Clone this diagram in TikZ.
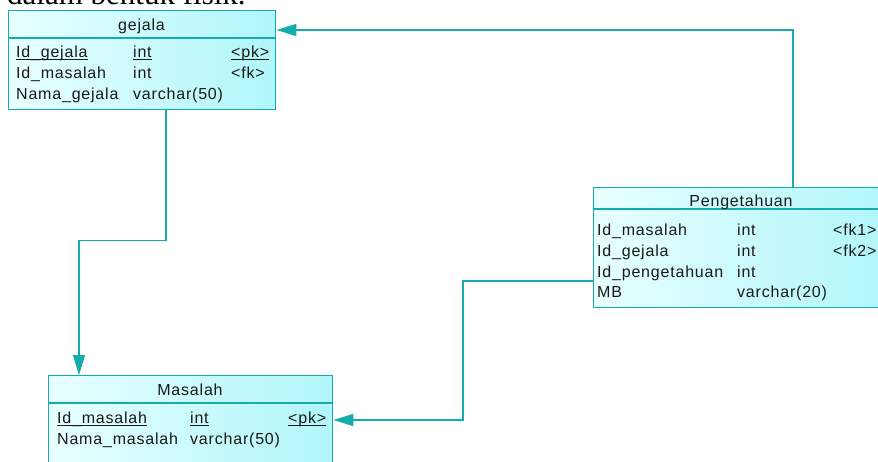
\documentclass[tikz,border=0pt]{standalone}
\usepackage{fontspec}
\setmainfont{Liberation Sans}[LetterSpace=5]
\newfontfamily\bodyserif{Liberation Serif}
\usetikzlibrary{arrows.meta,calc}
\definecolor{erline}{RGB}{20,172,172}
\definecolor{erfillA}{RGB}{232,255,255}
\definecolor{erfillB}{RGB}{176,246,250}
\newcommand\myul[1]{\setbox0\hbox{#1}\rlap{\rule[-2.6pt]{\wd0}{1pt}}\box0}
\begin{document}
\begin{tikzpicture}[x=1pt,y=-1pt,font=\fontsize{16}{18}\selectfont,
  tablebox/.style={draw=erline, line width=1.4pt, left color=erfillA, right color=erfillB, inner sep=0pt, anchor=north west},
  cell/.style={anchor=base west, inner sep=0pt, text=black!90},
  ttl/.style={anchor=base, inner sep=0pt, text=black!90},
  conn/.style={draw=erline, line width=1.4pt},
  arr/.style={-{Triangle[length=20pt,width=12pt]}}]
\useasboundingbox (0,0) rectangle (878,461);
\clip (0,0) rectangle (878,461);
\fill[white] (0,0) rectangle (878,461);
% cropped heading text
\node[anchor=base west, inner sep=0pt, font=\bodyserif\fontsize{31}{33}\selectfont] (head) at (7,4.8) {dalam bentuk fisik.};
% tables
\node[tablebox, minimum width=267pt, minimum height=99pt] (gejala) at (8,10) {};
\node[tablebox, minimum width=297pt, minimum height=120pt] (peng) at (593,187) {};
\node[tablebox, minimum width=284pt, minimum height=100pt] (masalah) at (48,375) {};
\draw[conn] ($(gejala.north west)+(0,28)$) -- ($(gejala.north east)+(0,28)$);
\draw[conn] ($(peng.north west)+(0,22)$) -- ($(peng.north east)+(0,22)$);
\draw[conn] ($(masalah.north west)+(0,28)$) -- ($(masalah.north east)+(0,28)$);
% gejala
\node[ttl] (gt) at (141.5,30) {gejala};
\node[cell] (g11) at (16,57) {\myul{Id\_gejala}};
\node[cell] (g12) at (133,57) {\myul{int}};
\node[cell] (g13) at (231,57) {\myul{<pk>}};
\node[cell] (g21) at (16,78) {Id\_masalah};
\node[cell] (g22) at (133,78) {int};
\node[cell] (g23) at (231,78) {<fk>};
\node[cell] (g31) at (16,99) {Nama\_gejala};
\node[cell] (g32) at (133,99) {varchar(50)};
% Pengetahuan
\node[ttl] (pt) at (741,206) {Pengetahuan};
\node[cell] (p11) at (597,235) {Id\_masalah};
\node[cell] (p12) at (737,235) {int};
\node[cell] (p13) at (833,235) {<fk1>};
\node[cell] (p21) at (597,256) {Id\_gejala};
\node[cell] (p22) at (737,256) {int};
\node[cell] (p23) at (833,256) {<fk2>};
\node[cell] (p31) at (597,277) {Id\_pengetahuan};
\node[cell] (p32) at (737,277) {int};
\node[cell] (p41) at (597,297) {MB};
\node[cell] (p42) at (737,297) {varchar(20)};
% Masalah
\node[ttl] (mt) at (190,395) {Masalah};
\node[cell] (m11) at (57,423) {\myul{Id\_masalah}};
\node[cell] (m12) at (190,423) {\myul{int}};
\node[cell] (m13) at (288,423) {\myul{<pk>}};
\node[cell] (m21) at (57,444) {Nama\_masalah};
\node[cell] (m22) at (190,444) {varchar(50)};
% connectors
\draw[conn,arr] ($(gejala.south west)+(158,0)$) -- ++(0,130) -| ($(masalah.north west)+(31,0)$);
\draw[conn,arr] ($(peng.north west)+(200,0)$) |- ($(gejala.north east)+(0,20)$);
\draw[conn,arr] ($(peng.north west)+(0,94)$) -- ++(-130,0) |- ($(masalah.north east)+(0,45)$);
\end{tikzpicture}
\end{document}
